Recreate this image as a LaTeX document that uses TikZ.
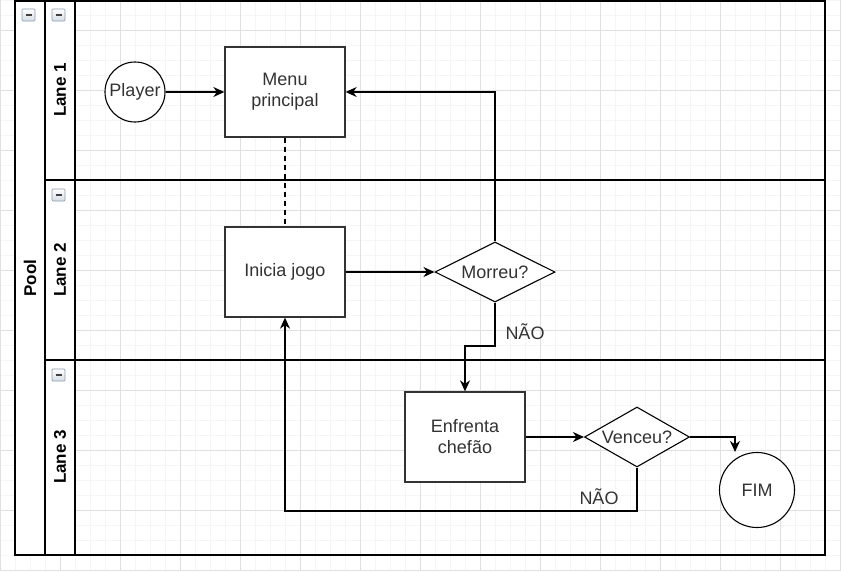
\documentclass[tikz,border=0pt]{standalone}
\usepackage{fontspec}
\setmainfont{Liberation Sans}
\usetikzlibrary{arrows.meta,shapes.geometric}
\definecolor{gradeFina}{HTML}{F5F5F5}
\definecolor{gradeForte}{HTML}{E0E0E0}
\definecolor{contorno}{HTML}{333333}
\definecolor{iconeFundo}{HTML}{D5DCE6}
\definecolor{iconeBorda}{HTML}{8A9AB0}
\tikzset{
	texto/.style={font=\fontsize{18}{21}\selectfont, text=contorno},
	caixa/.style={texto, draw=contorno, line width=1.3pt, fill=white, minimum width=120pt, minimum height=90pt, align=center},
	circulo/.style={texto, draw=black, line width=1.1pt, fill=white, circle, inner sep=0pt},
	losango/.style={texto, draw=black, line width=1.1pt, fill=white, diamond, aspect=2, inner sep=0pt},
	seta/.style={line width=1.3pt, -{Stealth[length=11pt,width=10pt,inset=3.5pt]}},
	faixa/.style={line width=1.6pt},
	titulo/.style={font=\fontsize{17}{20}\selectfont\bfseries, rotate=90},
	icone/.style={draw=iconeBorda, top color=white, bottom color=iconeFundo, rounded corners=1pt, line width=0.7pt}
}
\begin{document}
\begin{tikzpicture}[x=1pt,y=-1pt]
	\useasboundingbox (0,0) rectangle (841,571);
	\fill[white] (0,0) rectangle (841,571);
	\foreach \g in {0,15,...,840} \draw[gradeFina, line width=0.8pt] (\g,0) -- (\g,571);
	\foreach \g in {0,15,...,570} \draw[gradeFina, line width=0.8pt] (0,\g) -- (841,\g);
	\foreach \g in {0,60,...,840} \draw[gradeForte, line width=0.8pt] (\g,0) -- (\g,571);
	\foreach \g in {30,90,...,570} \draw[gradeForte, line width=0.8pt] (0,\g) -- (841,\g);
	\fill[white] (15,1) rectangle (75,555);
	\draw[faixa] (15,1) rectangle (825,555);
	\draw[faixa] (45,1) -- (45,555);
	\draw[faixa] (75,1) -- (75,555);
	\draw[faixa] (45,180) -- (825,180);
	\draw[faixa] (45,360) -- (825,360);
	\node[titulo] (pool) at (30,278) {Pool};
	\node[titulo] (lane1) at (60,90) {Lane 1};
	\node[titulo] (lane2) at (60,270) {Lane 2};
	\node[titulo] (lane3) at (60,457) {Lane 3};
	\foreach \ix/\iy in {22/9,52/9,52/189,52/369} {
		\draw[icone] (\ix,\iy) rectangle ++(13,12);
		\draw[line width=1.6pt, black!75] (\ix+3.5,\iy+6) -- ++(6,0);
	}
	\node[circulo, minimum size=60pt] (player) at (135,92) {Player};
	\node[caixa] (menu) at (285,92) {Menu\\principal};
	\node[caixa] (inicia) at (285,272) {Inicia jogo};
	\node[losango, minimum width=120pt, minimum height=60pt] (morreu) at (495,272) {Morreu?};
	\node[caixa] (chefao) at (465,437) {Enfrenta\\chefão};
	\node[losango, minimum width=105pt, minimum height=60pt] (venceu) at (637,437) {Venceu?};
	\node[circulo, minimum size=75pt] (fim) at (757,490) {FIM};
	\coordinate (desvio1) at (495,346);
	\coordinate (desvio2) at (465,346);
	\coordinate (retorno1) at (637,511);
	\coordinate (retorno2) at (285,511);
	\draw[seta] (player) -- (menu);
	\draw[seta] (morreu.north) |- (menu.east);
	\draw[line width=1.2pt, dashed, dash pattern=on 5pt off 4pt] (menu) -- (inicia);
	\draw[seta] (inicia) -- (morreu);
	\draw[seta] (morreu.south) -- (desvio1) -- (desvio2) -- (chefao.north);
	\draw[seta] (chefao) -- (venceu);
	\draw[seta] (venceu.east) -| (fim.north -| 735,0);
	\draw[seta] (venceu.south) -- (retorno1) -- (retorno2) -- (inicia.south);
	\node[texto] (nao1) at (525,332) {NÃO};
	\node[texto] (nao2) at (599,497) {NÃO};
\end{tikzpicture}
\end{document}
